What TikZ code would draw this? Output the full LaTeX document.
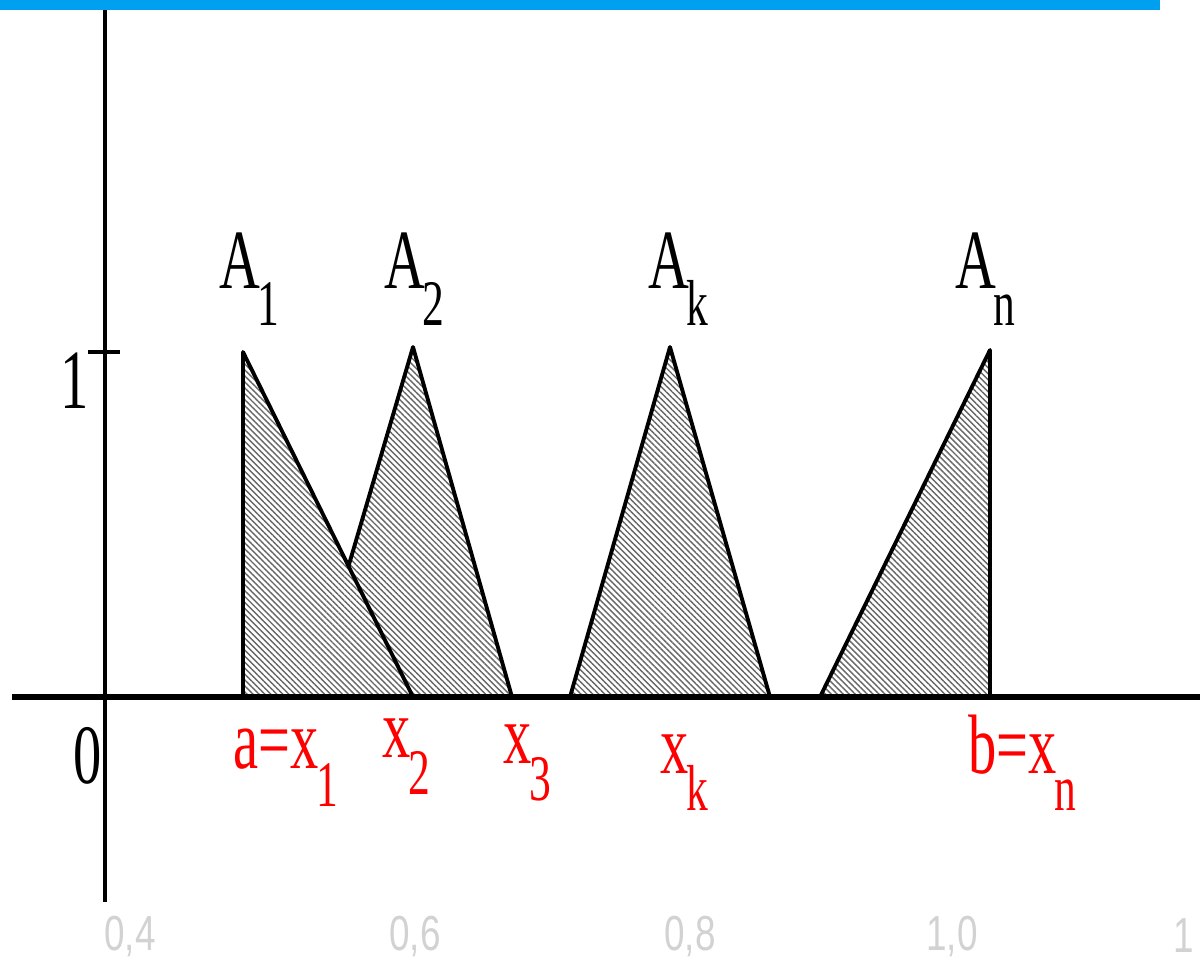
\documentclass[tikz,border=0pt]{standalone}
\usepackage{fontspec}
\setmainfont{Liberation Serif}
\newfontfamily\tickfont{Liberation Sans}
\usetikzlibrary{patterns.meta}
\definecolor{barblue}{HTML}{00A0F0}
\definecolor{ticklight}{HTML}{D2D2D2}
\newcommand\lsub[1]{\kern-2pt\raisebox{-.76cm}{\fontsize{37}{37}\selectfont #1}}
\begin{document}
\begin{tikzpicture}[x=.02cm, y=-.02cm, line join=round,
  memb/.style={line width=2.2pt, preaction={fill=white},
    pattern={Lines[angle=-45,distance=2.4pt,line width=.8pt]}, pattern color=black!60},
  lbl/.style={anchor=base west, inner sep=0pt, xscale=.67, font=\fontsize{48}{48}\selectfont},
  xlbl/.style={lbl, text=red},
  ticklbl/.style={inner sep=0pt, xscale=.75, text=ticklight, font=\tickfont\fontsize{28}{28}\selectfont}]
\useasboundingbox (0,0) rectangle (1204,960);
\fill[barblue] (0,0) rectangle (1160,10);
\path
(105,10) coordinate (Ytop)
(105,902) coordinate (Ybot)
(12,697) coordinate (Xl)
(1200,697) coordinate (Xr)
(88,352) coordinate (T1l)
(120,352) coordinate (T1r);
% membership triangles
\path
(243,697) coordinate (a1) (243,352) coordinate (p1) (413,697) coordinate (b1)
(310,697) coordinate (a2) (413,347) coordinate (p2) (512,697) coordinate (b2)
(570,697) coordinate (ak) (670,347) coordinate (pk) (770,697) coordinate (bk)
(820,697) coordinate (an) (990,350) coordinate (pn) (990,697) coordinate (bn);
\foreach \t in {2,1,k,n} \draw[memb] (a\t)--(p\t)--(b\t)--cycle;
% axes
\draw[line width=2.3pt] (Ytop)--(Ybot);
\draw[line width=3.4pt] (Xl)--(Xr);
\draw[line width=2.2pt] (T1l)--(T1r);
\node[lbl] (one) at (60,408) {1};
\node[lbl] (zero) at (73,783) {0};
% labels
\foreach \x/\s in {219/1,384/2,648/k,955/n}
  \node[lbl] (A\s) at (\x,288) {A\lsub{\s}};
\node[xlbl] (x1) at (233,768) {a=x\lsub{1}};
\node[xlbl] (x2) at (382,757) {x\lsub{2}};
\node[xlbl] (x3) at (503,763) {x\lsub{3}};
\node[xlbl] (xk) at (660,773) {x\lsub{k}};
\node[xlbl] (xn) at (968,773) {b=x\lsub{n}};
\foreach \x/\v in {130/{0,4},415/{0,6},690/{0,8},952/{1,0},1184/1}
  \node[ticklbl] (v\x) at (\x,936) {\v};
\end{tikzpicture}
\end{document}
